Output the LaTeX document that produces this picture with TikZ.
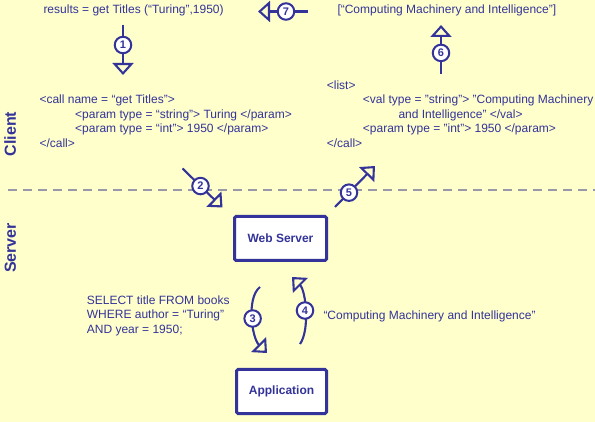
\documentclass[tikz,border=0pt]{standalone}
\usepackage{fontspec}
\setmainfont{Liberation Sans}
\usetikzlibrary{arrows.meta}
\definecolor{bg}{HTML}{FFFFCC}
\definecolor{ink}{HTML}{333399}
\definecolor{dashc}{HTML}{9999AA}
\begin{document}
\begin{tikzpicture}[x=1pt,y=-1pt,
 txt/.style={font=\fontsize{12}{14}\selectfont, text=ink, inner sep=0pt, anchor=base west},
 num/.style={circle, draw=ink, line width=2pt, fill=white, inner sep=0pt, minimum size=16.5pt, font=\fontsize{11}{11}\selectfont\bfseries, text=ink},
 arr/.style={draw=ink, line width=2.1pt, -{Triangle[open, length=12pt, width=21pt]}},
 box/.style={draw=ink, line width=3pt, fill=white, rounded corners=1.5pt, font=\fontsize{12}{14}\selectfont\bfseries, text=ink},
 side/.style={font=\fontsize{16}{16}\selectfont\bfseries, text=ink, rotate=90, anchor=base, inner sep=0pt}]
\fill[bg] (0,0) rectangle (595,422);
\useasboundingbox (0,0) rectangle (595,422);

% side labels
\node[side] (client) at (16,134) {Client};
\node[side] (server) at (16,248) {Server};

% divider
\coordinate (dl) at (8,190);
\coordinate (dr) at (595,190);
\draw[dashc, line width=2pt, dash pattern=on 9pt off 6pt] (dl) -- (dr);

% top texts
\node[txt] (call) at (43.3,13.5) {results = get Titles (“Turing”,1950)};
\node[txt] (result) at (337.3,13.5) {[“Computing Machinery and Intelligence”]};

% left XML
\node[txt] (l1) at (39.3,104) {<call name = “get Titles”>};
\node[txt] (l2) at (75,118.5) {<param type = “string”> Turing </param>};
\node[txt] (l3) at (75,133) {<param type = “int”> 1950 </param>};
\node[txt] (l4) at (39.3,147.5) {</call>};

% right XML
\node[txt] (r1) at (326.7,89.5) {<list>};
\node[txt] (r2) at (362.7,104) {<val type = "string"> "Computing Machinery};
\node[txt] (r3) at (398.3,118.5) {and Intelligence" </val>};
\node[txt] (r4) at (362.7,133) {<param type = "int"> 1950 </param>};
\node[txt] (r5) at (326.7,147.5) {</call>};

% SQL and answer
\node[txt] (q1) at (86.7,304.3) {SELECT title FROM books};
\node[txt] (q2) at (86.7,319) {WHERE author = “Turing”};
\node[txt] (q3) at (86.7,333.7) {AND year = 1950;};
\node[txt] (ans) at (323.3,319.3) {“Computing Machinery and Intelligence”};

% boxes
\node[box, minimum width=92pt, minimum height=44pt] (web) at (280.5,238.5) {Web Server};
\node[box, minimum width=90pt, minimum height=44pt] (app) at (281.5,391.5) {Application};

% arrows
\coordinate (s1) at (123,25);   \coordinate (e1) at (123,75);
\coordinate (s2) at (182.5,168.5); \coordinate (e2) at (222.5,207.5);
\coordinate (s3) at (260,287);  \coordinate (e3) at (267,353);
\coordinate (s4) at (300,344);  \coordinate (e4) at (292,277);
\coordinate (s5) at (335,207);  \coordinate (e5) at (375,166);
\coordinate (s6) at (441,74);   \coordinate (e6) at (441,25);
\coordinate (s7) at (308,11.5); \coordinate (e7) at (258,11.5);

\draw[arr] (s1) -- node[num, pos=0.4] (c1) {1} (e1);
\draw[arr] (s2) -- node[num, pos=0.45] (c2) {2} (e2);
\draw[arr] (s3) .. controls (246,298) and (252,338) .. node[num, pos=0.5] (c3) {3} (e3);
\draw[arr] (s4) .. controls (310,330) and (306,291) .. node[num, pos=0.5] (c4) {4} (e4);
\draw[arr] (s5) -- node[num, pos=0.35] (c5) {5} (e5);
\draw[arr] (s6) -- node[num, pos=0.43] (c6) {6} (e6);
\draw[arr] (s7) -- node[num, pos=0.44] (c7) {7} (e7);
\end{tikzpicture}
\end{document}
